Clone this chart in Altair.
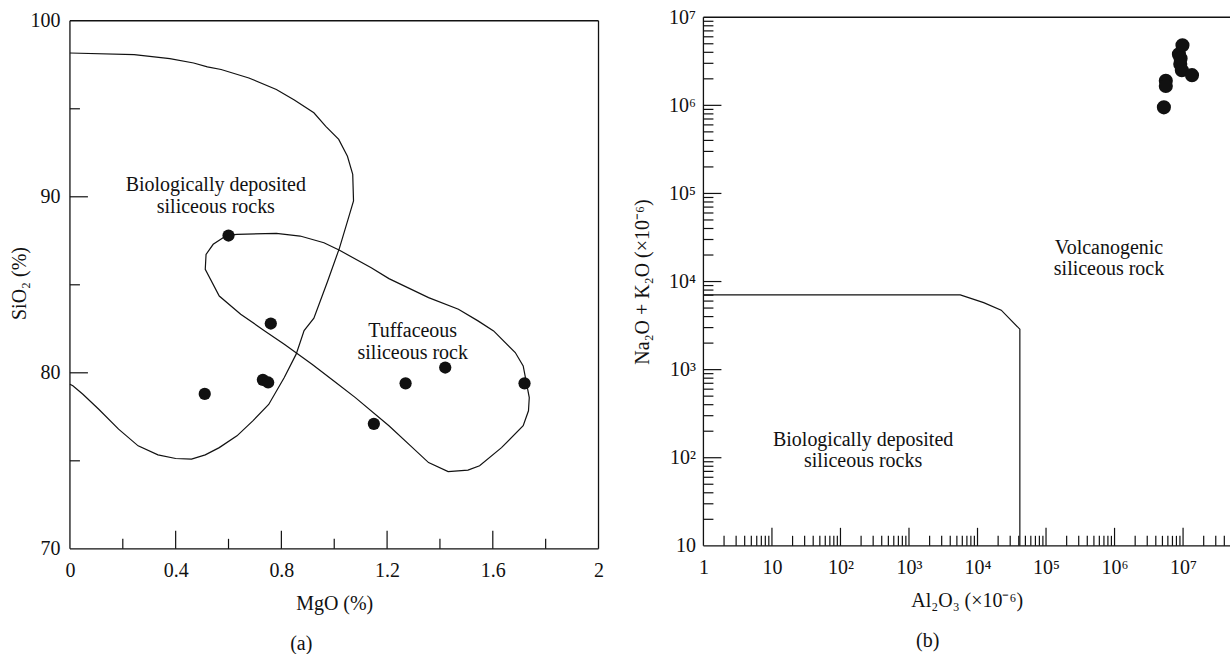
import json
import altair as alt
import pandas as pd

FONT = "Liberation Serif"
INK = "#111111"

# ---------------- panel (a): SiO2 vs MgO ----------------
mgo = [0.60, 0.76, 0.51, 0.73, 0.75, 1.15, 1.27, 1.42, 1.72]
sio2 = [87.8, 82.8, 78.8, 79.6, 79.45, 77.1, 79.4, 80.3, 79.4]

bio_mgo = [0, 0.243, 0.378, 0.468, 0.52, 0.572, 0.677, 0.781, 0.849, 0.923,
           0.968, 1.017, 1.05, 1.07, 1.073, 1.05, 1.02, 0.975, 0.923,
           0.886, 0.856, 0.811, 0.752, 0.692, 0.632, 0.565, 0.512, 0.46, 0.40,
           0.333, 0.258, 0.184, 0.109, 0.049, 0.011, 0]
bio_sio2 = [98.17, 98.08, 97.85, 97.6, 97.38, 97.23, 96.75, 96.1, 95.5, 94.77,
            94.0, 93.26, 92.3, 91.27, 89.76, 88.6, 87.1, 85.2, 83.1,
            82.4, 81.06, 79.73, 78.2, 77.27, 76.42, 75.75, 75.34, 75.1, 75.13,
            75.34, 75.85, 76.8, 77.93, 78.78, 79.26, 79.35]

tuf_mgo = [0.594, 0.632, 0.781, 0.871, 0.961, 1.02, 1.14, 1.207, 1.357, 1.47,
           1.544, 1.603, 1.685, 1.715, 1.738, 1.735, 1.715, 1.633, 1.55, 1.506,
           1.431, 1.357, 1.289, 1.207, 1.08, 1.006, 0.916, 0.811, 0.737, 0.646,
           0.565, 0.512, 0.515, 0.542, 0.594]
tuf_sio2 = [87.81, 87.87, 87.92, 87.77, 87.39, 86.96, 85.97, 85.35, 84.27, 83.61,
            82.95, 82.38, 81.15, 80.39, 78.59, 77.84, 76.99, 75.75, 74.72, 74.47,
            74.39, 74.9, 75.85, 76.99, 78.59, 79.45, 80.49, 81.62, 82.38, 83.33,
            84.36, 85.88, 86.73, 87.3, 87.81]

a_note_text = ["Biologically deposited\nsiliceous rocks", "Tuffaceous\nsiliceous rock"]
a_note_x = [0.552, 1.297]
a_note_y = [90.66, 82.4]

a_x_labels = [0, 0.4, 0.8, 1.2, 1.6, 2]
a_y_labels = [70, 80, 90, 100]
a_x_major = [0.4, 0.8, 1.2, 1.6]
a_x_minor = [0.2, 0.6, 1.0, 1.4, 1.8]
a_y_major = [80, 90]
a_y_minor = [75, 85, 95]

# ---------------- panel (b): Na2O+K2O vs Al2O3 ----------------
al2o3 = [5.25e6, 5.6e6, 5.6e6, 9.8e6, 8.7e6, 9.1e6, 9.6e6, 1.35e7, 9.2e6]
alkali = [9.5e5, 1.9e6, 1.66e6, 4.8e6, 3.8e6, 2.95e6, 2.5e6, 2.2e6, 3.4e6]

bnd_al = [1, 5600, 12300, 22200, 41500, 41500]
bnd_alk = [7050, 7050, 5770, 4730, 2880, 10]

b_note_text = ["Volcanogenic\nsiliceous rock", "Biologically deposited\nsiliceous rocks"]
b_note_x = [8.3e5, 214]
b_note_y = [23800, 157]

b_x_label_values = [1, 10, 100, 1e3, 1e4, 1e5, 1e6, 1e7]
b_x_label_text = ["1", "10", "10²", "10³", "10⁴", "10⁵", "10⁶", "10⁷"]
b_y_label_values = [10, 100, 1e3, 1e4, 1e5, 1e6, 1e7]
b_y_label_text = ["10", "10²", "10³", "10⁴", "10⁵", "10⁶", "10⁷"]

# ---------------- geometry ----------------
AW, AH = 529, 532
BW, BH = 527, 529
A_YMAX = 100.2
B_XMAX = 10 ** 7.685
MAJ, MIN = 18, 10

b_x_major = [10, 100, 1e3, 1e4, 1e5, 1e6, 1e7]
b_x_minor = [m * 10 ** e for e in range(0, 8) for m in range(2, 10) if m * 10 ** e <= B_XMAX]
b_y_major = [100, 1e3, 1e4, 1e5, 1e6]
b_y_minor = [m * 10 ** e for e in range(1, 7) for m in range(2, 10)]

dummy = pd.DataFrame({"k": [0]})


def ticks_x(vals, scale, h, length):
    return alt.Chart(pd.DataFrame({"v": vals})).mark_rule(color=INK, strokeWidth=1.2).encode(
        x=alt.X("v:Q", scale=scale),
        y=alt.value(h), y2=alt.value(h - length))


def ticks_y(vals, scale, length):
    return alt.Chart(pd.DataFrame({"v": vals})).mark_rule(color=INK, strokeWidth=1.2).encode(
        y=alt.Y("v:Q", scale=scale),
        x=alt.value(0), x2=alt.value(length))


def border(xs, ys, xsc, ysc):
    enc = {}
    if isinstance(xs, tuple):
        enc["x"] = alt.X(datum=xs[0], type="quantitative", scale=xsc)
        enc["x2"] = alt.datum(xs[1])
    else:
        enc["x"] = alt.X(datum=xs, type="quantitative", scale=xsc)
    if isinstance(ys, tuple):
        enc["y"] = alt.Y(datum=ys[0], type="quantitative", scale=ysc)
        enc["y2"] = alt.datum(ys[1])
    else:
        enc["y"] = alt.Y(datum=ys, type="quantitative", scale=ysc)
    return alt.Chart(dummy).mark_rule(color=INK, strokeWidth=1.3).encode(**enc)


# ---------------- chart (a) ----------------
xa = alt.Scale(domain=[0, 2], nice=False, zero=False)
ya = alt.Scale(domain=[70, A_YMAX], nice=False, zero=False)

df_a = pd.DataFrame({"mgo": mgo, "sio2": sio2})
pts_a = alt.Chart(df_a).mark_circle(size=150, color=INK, opacity=1).encode(
    x=alt.X("mgo:Q", scale=xa,
            axis=alt.Axis(values=a_x_labels, format=".1~f", title="MgO (%)", labelPadding=12,
                          labelFlush=False, labelOverlap=False,
                          titleY=55, titleBaseline="middle")),
    y=alt.Y("sio2:Q", scale=ya,
            axis=alt.Axis(values=a_y_labels, title="SiO₂ (%)", labelPadding=10,
                          titleX=-50, titleBaseline="middle")),
)

bio = alt.Chart(pd.DataFrame({"x": bio_mgo, "y": bio_sio2, "i": range(len(bio_mgo))})).mark_line(
    color=INK, strokeWidth=1.2).encode(
    x=alt.X("x:Q", scale=xa), y=alt.Y("y:Q", scale=ya), order="i:Q")
tuf = alt.Chart(pd.DataFrame({"x": tuf_mgo, "y": tuf_sio2, "i": range(len(tuf_mgo))})).mark_line(
    color=INK, strokeWidth=1.2).encode(
    x=alt.X("x:Q", scale=xa), y=alt.Y("y:Q", scale=ya), order="i:Q")

notes_a = alt.Chart(pd.DataFrame({"x": a_note_x, "y": a_note_y, "t": a_note_text})).mark_text(
    font=FONT, fontSize=20, lineBreak="\n", lineHeight=22, align="center", baseline="middle",
    color=INK).encode(
    x=alt.X("x:Q", scale=xa), y=alt.Y("y:Q", scale=ya), text="t:N")

chart_a = alt.layer(
    pts_a, bio, tuf,
    border(0, (70, 100), xa, ya), border(2, (70, 100), xa, ya),
    border((0, 2), 100, xa, ya), border((0, 2), 70, xa, ya),
    ticks_x(a_x_major, xa, AH, MAJ), ticks_x(a_x_minor, xa, AH, MIN),
    ticks_y(a_y_major, ya, MAJ), ticks_y(a_y_minor, ya, MIN),
    notes_a,
).properties(width=AW, height=AH,
             title=alt.TitleParams("(a)", orient="bottom", anchor="middle", frame="group",
                                   dx=-33, offset=20))

# ---------------- chart (b) ----------------
xb = alt.Scale(type="log", domain=[1, B_XMAX], nice=False)
yb = alt.Scale(type="log", domain=[10, 1e7], nice=False)

xlab_expr = json.dumps(b_x_label_text, ensure_ascii=False) + "[round(log(datum.value)/LN10)]"
ylab_expr = json.dumps(b_y_label_text, ensure_ascii=False) + "[round(log(datum.value)/LN10) - 1]"

df_b = pd.DataFrame({"al": al2o3, "alk": alkali})
pts_b = alt.Chart(df_b).mark_circle(size=200, color=INK, opacity=1).encode(
    x=alt.X("al:Q", scale=xb,
            axis=alt.Axis(values=b_x_label_values, labelExpr=xlab_expr, title="Al₂O₃ (×10⁻⁶)",
                          labelPadding=12, labelFlush=False, labelOverlap=False,
                          titleY=55, titleBaseline="middle")),
    y=alt.Y("alk:Q", scale=yb,
            axis=alt.Axis(values=b_y_label_values, labelExpr=ylab_expr,
                          title="Na₂O + K₂O (×10⁻⁶)", labelPadding=8, labelOverlap=False,
                          titleX=-61, titleBaseline="middle")),
)

bnd = alt.Chart(pd.DataFrame({"x": bnd_al, "y": bnd_alk, "i": range(len(bnd_al))})).mark_line(
    color=INK, strokeWidth=1.2).encode(
    x=alt.X("x:Q", scale=xb), y=alt.Y("y:Q", scale=yb), order="i:Q")

notes_b = alt.Chart(pd.DataFrame({"x": b_note_x, "y": b_note_y, "t": b_note_text})).mark_text(
    font=FONT, fontSize=20, lineBreak="\n", lineHeight=21, align="center", baseline="middle",
    color=INK).encode(
    x=alt.X("x:Q", scale=xb), y=alt.Y("y:Q", scale=yb), text="t:N")

chart_b = alt.layer(
    pts_b, bnd,
    border(1, (10, 1e7), xb, yb),
    border((1, B_XMAX), 1e7, xb, yb), border((1, B_XMAX), 10, xb, yb),
    ticks_x(b_x_major, xb, BH, MAJ), ticks_x(b_x_minor, xb, BH, MIN),
    ticks_y(b_y_major, yb, MAJ), ticks_y(b_y_minor, yb, MIN),
    notes_b,
).properties(width=BW, height=BH,
             title=alt.TitleParams("(b)", orient="bottom", anchor="middle", frame="group",
                                   dx=-39, offset=20))

chart = alt.hconcat(chart_a, chart_b, spacing=105, bounds="flush").properties(
    padding={"left": 10, "top": 7, "right": 0, "bottom": 0}
).configure_view(stroke=None).configure_axis(
    labelFont=FONT, labelFontSize=20, labelColor=INK,
    titleFont=FONT, titleFontSize=20, titleFontWeight="normal", titleColor=INK,
    ticks=False, domain=False, grid=False,
).configure_title(font=FONT, fontSize=20, fontWeight="normal", color=INK)

chart.save("out.html", embed_options={"renderer": "svg", "actions": False})
